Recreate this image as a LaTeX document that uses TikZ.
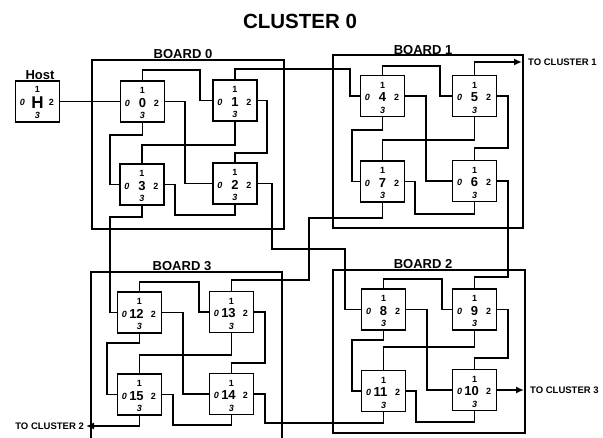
\documentclass[tikz,border=0pt]{standalone}
\usepackage{fontspec}
\setmainfont{Liberation Sans}
\usetikzlibrary{arrows.meta}
\tikzset{
  wire/.style={line width=1.9pt, line join=miter},
  board/.style={line width=1.9pt, line join=miter},
  pe/.style={draw, line width=1.9pt, minimum width=44pt, minimum height=41pt, inner sep=0pt},
  port/.style={font=\bfseries\fontsize{9}{9}\selectfont, inner sep=0pt},
  iport/.style={font=\bfseries\itshape\fontsize{9}{9}\selectfont, inner sep=0pt},
  num/.style={font=\bfseries\fontsize{13}{13}\selectfont, inner sep=0pt},
  blabel/.style={font=\bfseries\fontsize{13}{13}\selectfont, inner sep=0pt, anchor=base},
  clabel/.style={font=\bfseries\fontsize{9.5}{9.5}\selectfont, inner sep=0pt},
  tip/.style={-{Latex[length=8pt,width=7pt]}},
}
\newcommand\penode[5]{%
  \node[pe] (#1) at (#2,#3) {};
  \path (#2,#3) ++(0,-11) node[port] (#1t) {1};
  \path (#2,#3) ++(-15,1.5) node[iport] (#1l) {0};
  \path (#2,#3) ++(#5,1.5) node[num] (#1c) {#4};
  \path (#2,#3) ++(14,1.5) node[port] (#1r) {2};
  \path (#2,#3) ++(0,14) node[iport] (#1b) {3};
}
\begin{document}
\begin{tikzpicture}[x=1pt, y=-1pt]
\useasboundingbox (0,0) rectangle (603,437);
\fill[white] (0,0) rectangle (603,437);

% title
\node[font=\bfseries\fontsize{20.5}{20.5}\selectfont, inner sep=0pt, anchor=base] (title) at (300,28.5) {CLUSTER 0};

% boards
\draw[board] (92,60) rectangle (284,229);
\draw[board] (333,55) rectangle (523,228);
\draw[board] (91,440) -- (91,272) -- (282,272) -- (282,440);
\draw[board] (333,270) rectangle (525,433);
\node[blabel] (lb0) at (183,58.5) {BOARD 0};
\node[blabel] (lb1) at (423,54) {BOARD 1};
\node[blabel] (lb3) at (182,270.5) {BOARD 3};
\node[blabel] (lb2) at (423,268) {BOARD 2};

% host
\node[pe] (host) at (37.5,101.5) {};
\node[font=\bfseries\fontsize{13}{13}\selectfont, inner sep=0pt, anchor=base] (hostlbl) at (40,79.5) {Host};
\path (37.5,101.5) ++(0,-12) node[port] (hostt) {1};
\path (37.5,101.5) ++(-15,1) node[iport] (hostl) {0};
\path (37.5,101.5) ++(0,1) node[font=\bfseries\fontsize{17}{17}\selectfont, inner sep=0pt] (hostc) {H};
\path (37.5,101.5) ++(14,1) node[port] (hostr) {2};
\path (37.5,101.5) ++(0,13.5) node[iport] (hostb) {3};

% processing elements
\penode{n0}{142.5}{101.5}{0}{0}
\penode{n1}{235}{100.5}{1}{0}
\penode{n3}{142}{184.5}{3}{0}
\penode{n2}{235}{183.5}{2}{0}
\penode{n4}{382.5}{96}{4}{0}
\penode{n5}{474.5}{96}{5}{0}
\penode{n7}{382.5}{181.5}{7}{0}
\penode{n6}{474.5}{181}{6}{0}
\penode{n12}{139.5}{312.5}{12}{-3}
\penode{n13}{231.5}{312}{13}{-3}
\penode{n15}{139.5}{394.5}{15}{-3}
\penode{n14}{231.5}{394}{14}{-3}
\penode{n8}{383.5}{309.5}{8}{0}
\penode{n9}{474.5}{309.5}{9}{0}
\penode{n11}{383.5}{391}{11}{-3}
\penode{n10}{474.5}{390}{10}{-3}

% cluster exits
\coordinate (c1) at (522,62);
\coordinate (c3) at (524,390);
\coordinate (c2) at (86,426);
\node[clabel, anchor=west] (lc1) at (528,62) {TO CLUSTER 1};
\node[clabel, anchor=west] (lc3) at (530,390) {TO CLUSTER 3};
\node[clabel, anchor=east] (lc2) at (84,426) {TO CLUSTER 2};

% board 0 wiring
\draw[wire] (host.east) -- (n0.west);
\draw[wire] (n0.north) |- (200,70) |- (n1.west);
\draw[wire] (n1.north) |- (350,69) |- (n4.west);
\draw[wire] (n0.east) -| (185,150) |- (n2.west);
\draw[wire] (n0.south) |- (110,135) |- (n3.west);
\draw[wire] (n1.south) |- (142,145) -- (n3.north);
\draw[wire] (n1.east) -| (267,153) -| (n2.north);
\draw[wire] (n3.east) -| (175,215) -| (n2.south);
\draw[wire] (n3.south) |- (110,217) |- (n12.west);
\draw[wire] (n2.east) -| (272,249) -| (345,280) |- (n8.west);

% board 1 wiring
\draw[wire] (n4.north) |- (440,66) |- (n5.west);
\draw[wire, tip] (n5.north) |- (c1);
\draw[wire] (n4.east) -| (426,140) |- (n6.west);
\draw[wire] (n4.south) |- (352,130) |- (n7.west);
\draw[wire] (n5.south) |- (382.5,140) -- (n7.north);
\draw[wire] (n5.east) -| (508,148) -| (n6.north);
\draw[wire] (n7.east) -| (415,214) -| (n6.south);
\draw[wire] (n7.south) |- (309,218) |- (231.5,280) -- (n13.north);
\draw[wire] (n6.east) -| (508,277) -| (n9.north);

% board 2 wiring
\draw[wire] (n8.north) |- (442,279) |- (n9.west);
\draw[wire] (n8.east) -| (427,340) |- (n10.west);
\draw[wire] (n8.south) |- (352,340) |- (n11.west);
\draw[wire] (n9.south) |- (383.5,347) -- (n11.north);
\draw[wire] (n9.east) -| (508,358) -| (n10.north);
\draw[wire] (n11.east) -| (416,422) -| (n10.south);
\draw[wire, tip] (n10.east) -- (c3);

% board 3 wiring
\draw[wire] (n12.north) |- (199,282) |- (n13.west);
\draw[wire] (n12.east) -| (183,350) |- (n14.west);
\draw[wire] (n12.south) |- (107,343) |- (n15.west);
\draw[wire] (n13.south) |- (139.5,355) -- (n15.north);
\draw[wire] (n13.east) -| (265,363) -| (n14.north);
\draw[wire] (n15.east) -| (173,425) -| (n14.south);
\draw[wire, tip] (n15.south) |- (c2);
\draw[wire] (n14.east) -| (265,423) -| (n11.south);
\end{tikzpicture}
\end{document}
